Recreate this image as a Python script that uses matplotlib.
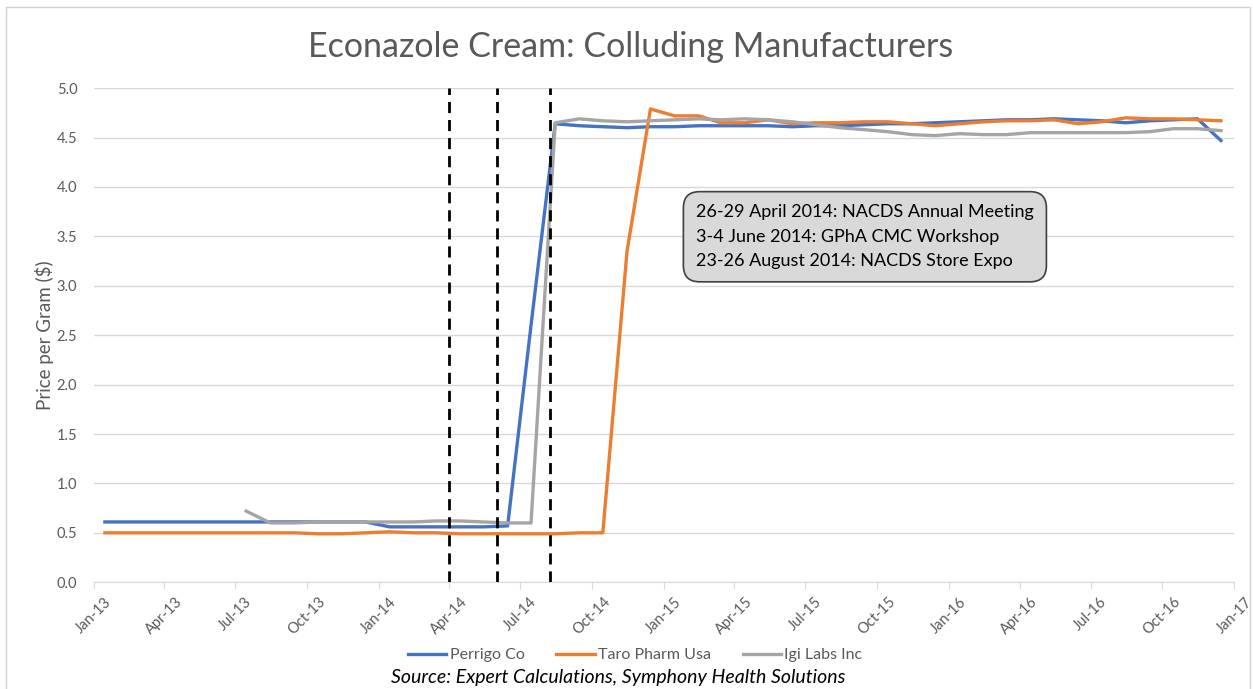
import numpy as np
import matplotlib
matplotlib.use('Agg')
import matplotlib.pyplot as plt
import matplotlib.dates as mdates
from matplotlib.patches import Rectangle

# monthly observations, Jan-13 .. Dec-16 (plotted mid-month)
months = np.arange('2013-01', '2017-01', dtype='datetime64[M]')
dates = months.astype('datetime64[D]') + 14

perrigo = [0.61, 0.61, 0.61, 0.61, 0.61, 0.61, 0.61, 0.61, 0.61, 0.61, 0.61, 0.61,
           0.56, 0.56, 0.56, 0.56, 0.56, 0.57, 2.60, 4.64, 4.62, 4.61, 4.60, 4.61,
           4.61, 4.62, 4.62, 4.62, 4.62, 4.61, 4.62, 4.62, 4.63, 4.64, 4.64, 4.65,
           4.66, 4.67, 4.68, 4.68, 4.69, 4.68, 4.67, 4.65, 4.67, 4.68, 4.69, 4.47]
taro = [0.50, 0.50, 0.50, 0.50, 0.50, 0.50, 0.50, 0.50, 0.50, 0.49, 0.49, 0.50,
        0.51, 0.50, 0.50, 0.49, 0.49, 0.49, 0.49, 0.49, 0.50, 0.50, 3.35, 4.79,
        4.72, 4.72, 4.65, 4.65, 4.68, 4.64, 4.65, 4.65, 4.66, 4.66, 4.64, 4.62,
        4.64, 4.66, 4.67, 4.67, 4.68, 4.64, 4.66, 4.70, 4.69, 4.69, 4.68, 4.67]
igi = [np.nan, np.nan, np.nan, np.nan, np.nan, np.nan, 0.72, 0.60, 0.60, 0.61, 0.61, 0.61,
       0.61, 0.61, 0.62, 0.62, 0.61, 0.60, 0.60, 4.65, 4.69, 4.67, 4.66, 4.67,
       4.68, 4.69, 4.68, 4.69, 4.68, 4.66, 4.63, 4.60, 4.58, 4.56, 4.53, 4.52,
       4.54, 4.53, 4.53, 4.55, 4.55, 4.55, 4.55, 4.55, 4.56, 4.59, 4.59, 4.57]

series_names = ['Perrigo Co', 'Taro Pharm Usa', 'Igi Labs Inc']
series_colors = ['#4472C4', '#ED7D31', '#A5A5A5']

event_dates = np.array(['2014-04-01', '2014-06-01', '2014-08-08'], dtype='datetime64[D]')
event_text = ('26-29 April 2014: NACDS Annual Meeting\n'
              '3-4 June 2014: GPhA CMC Workshop\n'
              '23-26 August 2014: NACDS Store Expo')

plt.rcParams['font.family'] = ['Lato', 'DejaVu Sans']

fig = plt.figure(figsize=(12.53, 6.89), dpi=100)
ax = fig.add_axes([0.075, 0.155, 0.910, 0.717])

for vals, name, col in zip([perrigo, taro, igi], series_names, series_colors):
    ax.plot(dates, vals, color=col, lw=2.4, label=name, solid_joinstyle='round')

for d in event_dates:
    ax.axvline(d, color='black', lw=2.0, ls=(0, (4, 2.5)), zorder=4)

ax.set_xlim(np.datetime64('2013-01-01'), np.datetime64('2017-01-01'))
ax.set_ylim(0, 5)
ax.set_yticks(np.arange(0, 5.01, 0.5))
ax.yaxis.set_major_formatter(plt.FormatStrFormatter('%.1f'))
ax.xaxis.set_major_locator(mdates.MonthLocator(bymonth=[1, 4, 7, 10]))
ax.xaxis.set_major_formatter(mdates.DateFormatter('%b-%y'))

ax.grid(axis='y', color='#D9D9D9', lw=1)
ax.set_axisbelow(True)
for s in ['top', 'right', 'left']:
    ax.spines[s].set_visible(False)
ax.spines['bottom'].set_color('#D9D9D9')
ax.tick_params(axis='y', length=0, labelsize=10.5, labelcolor='#595959', pad=12)
ax.tick_params(axis='x', length=5, color='#D9D9D9', labelsize=10.5,
               labelcolor='#595959', pad=4)
for lab in ax.get_xticklabels():
    lab.set_rotation(45)
    lab.set_ha('center')

ax.set_ylabel('Price per Gram ($)', fontsize=13.5, color='#595959', labelpad=2)

fig.text(0.503, 0.932, 'Econazole Cream: Colluding Manufacturers',
         ha='center', va='center', fontsize=24.5, color='#595959')

ax.text(0.528, 0.765, event_text, transform=ax.transAxes, ha='left', va='top',
        fontsize=13, color='black', linespacing=1.65,
        bbox=dict(boxstyle='round,pad=0.7,rounding_size=0.9',
                  facecolor='#D9D9D9', edgecolor='#404040', lw=1.2))

fig.legend(loc='center', bbox_to_anchor=(0.507, 0.049), ncol=3, frameon=False,
           fontsize=11.5, handlelength=2.4, columnspacing=2.0, handletextpad=0.2,
           labelcolor='#595959')

fig.text(0.493, 0.016, 'Source: Expert Calculations, Symphony Health Solutions',
         ha='center', va='center', fontsize=14, style='italic', color='black')

fig.patches.append(Rectangle((0.005, -0.01), 0.993, 1.0, transform=fig.transFigure,
                             fill=False, edgecolor='#D0D0D0', lw=1))

fig.savefig('out.png', dpi=100)
